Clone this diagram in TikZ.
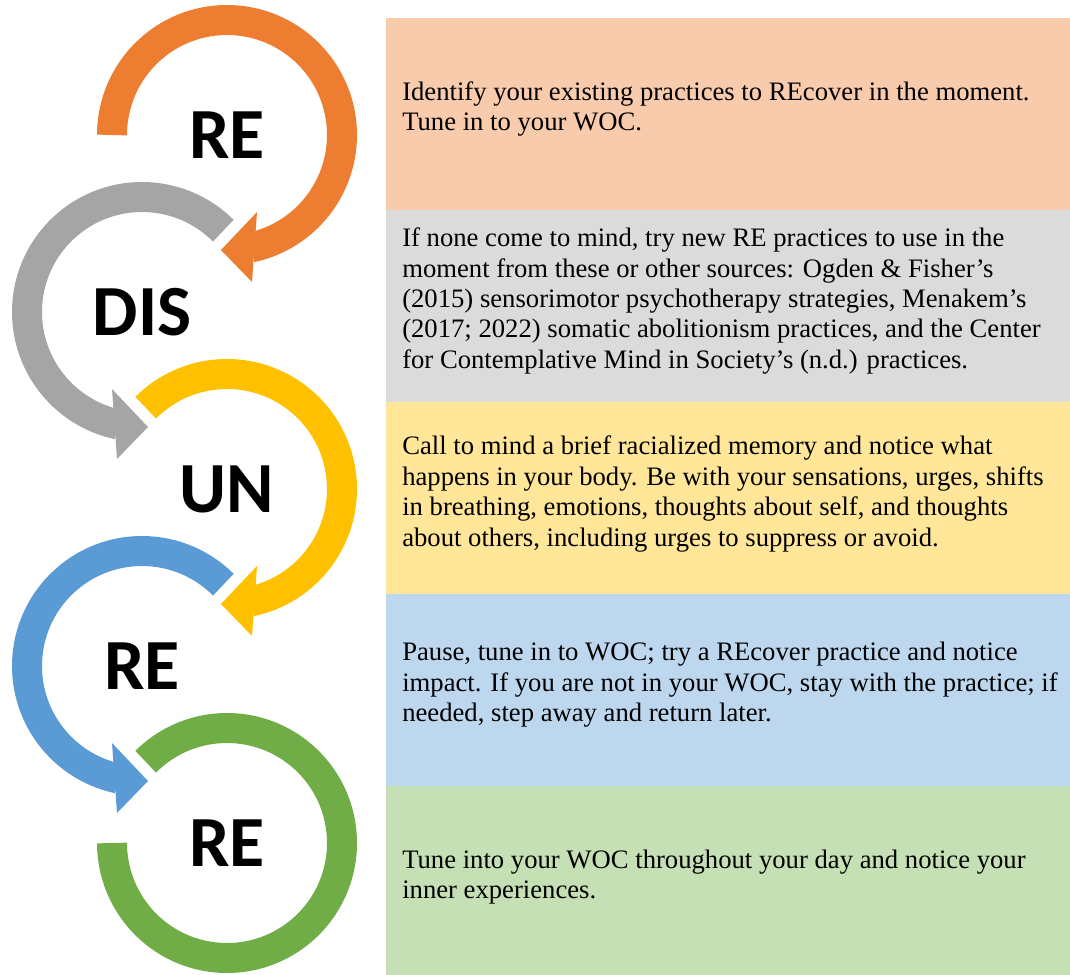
\documentclass[tikz,border=0pt]{standalone}
\usepackage{fontspec}
\setmainfont{Liberation Serif}
\newfontfamily\stagefont{Carlito}
\usepackage{tikz}

\definecolor{reOrange}{HTML}{ED7D31}
\definecolor{disGray}{HTML}{A5A5A5}
\definecolor{unGold}{HTML}{FFC000}
\definecolor{reBlue}{HTML}{5B9BD5}
\definecolor{reGreen}{HTML}{70AD47}
\definecolor{paleOrange}{HTML}{F8CBAD}
\definecolor{paleGray}{HTML}{DBDBDB}
\definecolor{paleGold}{HTML}{FFE699}
\definecolor{paleBlue}{HTML}{BDD7EE}
\definecolor{paleGreen}{HTML}{C5E0B4}

\begin{document}
\begin{tikzpicture}[x=0.75pt,y=0.75pt,
  stage/.style={font=\stagefont\bfseries\fontsize{54}{54}\selectfont},
  ring/.style={line width=22.5pt},
  note/.style={anchor=west,align=left,inner sep=0pt,font=\fontsize{20}{22.8}\selectfont}]
\useasboundingbox (0,0) rectangle (1070,-974);

\foreach \c [count=\i] in {paleOrange,paleGray,paleGold,paleBlue,paleGreen}
  \fill[\c] (386,{-18-192*(\i-1)}) rectangle (1070,{-18-192*\i});

\node[stage] (re1) at (227,-135) {RE};
\node[stage] (dis) at (142,-312) {DIS};
\node[stage] (un)  at (227,-489) {UN};
\node[stage] (re2) at (142,-666) {RE};
\node[stage] (re3) at (227,-843) {RE};

\draw[ring,reOrange] (re1.center) ++(180:115) arc[start angle=180,end angle=-78,radius=115];
\fill[reOrange] (re1.center) +(30,-77) -- +(25,-147) -- +(-6,-115) -- cycle;
\draw[ring,disGray] (dis.center) ++(45:115) arc[start angle=45,end angle=258,radius=115];
\fill[disGray] (dis.center) +(-30,-77) -- +(-25,-147) -- +(6,-115) -- cycle;
\draw[ring,unGold] (un.center) ++(135:115) arc[start angle=135,end angle=-78,radius=115];
\fill[unGold] (un.center) +(30,-77) -- +(25,-147) -- +(-6,-115) -- cycle;
\draw[ring,reBlue] (re2.center) ++(45:115) arc[start angle=45,end angle=258,radius=115];
\fill[reBlue] (re2.center) +(-30,-77) -- +(-25,-147) -- +(6,-115) -- cycle;
\draw[ring,reGreen] (re3.center) ++(135:115) arc[start angle=135,end angle=-180,radius=115];

\node[note] (s1) at (402,-109) {Identify your existing practices to REcover in the moment.\\
  Tune in to your WOC.};
\node[note] (s2) at (402,-301) {If none come to mind, try new RE practices to use in the\\
  moment from these or other sources: Ogden \& Fisher’s\\
  (2015) sensorimotor psychotherapy strategies, Menakem’s\\
  (2017; 2022) somatic abolitionism practices, and the Center\\
  for Contemplative Mind in Society’s (n.d.) practices.};
\node[note] (s3) at (402,-494) {Call to mind a brief racialized memory and notice what\\
  happens in your body. Be with your sensations, urges, shifts\\
  in breathing, emotions, thoughts about self, and thoughts\\
  about others, including urges to suppress or avoid.};
\node[note] (s4) at (402,-685) {Pause, tune in to WOC; try a REcover practice and notice\\
  impact. If you are not in your WOC, stay with the practice; if\\
  needed, step away and return later.};
\node[note] (s5) at (402,-877) {Tune into your WOC throughout your day and notice your\\
  inner experiences.};
\end{tikzpicture}
\end{document}
